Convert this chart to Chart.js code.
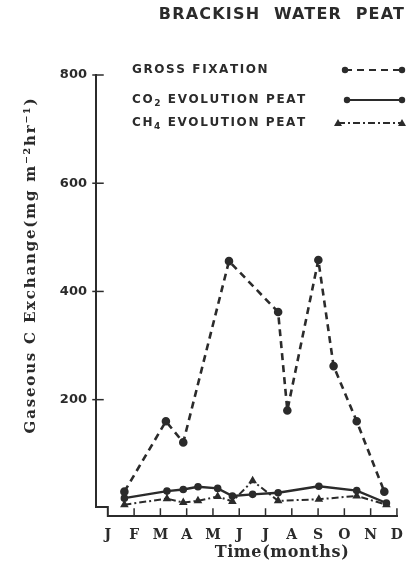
<!DOCTYPE html>
<html><head><meta charset="utf-8">
<script src="https://cdn.jsdelivr.net/npm/chart.js@4/dist/chart.umd.min.js"></script>
<style>html,body{margin:0;padding:0;background:#fff;}#wrap{width:414px;height:567px;position:relative;}</style>
</head><body><div id="wrap"><canvas id="c" width="414" height="567"></canvas></div>
<script>
// ---- data (x = month position, 0 = January, 11 = December) ----
const monthLabels = ["J","F","M","A","M","J","J","A","S","O","N","D"];
const yTicks = [200, 400, 600, 800];
const grossX = [0.63, 2.21, 2.87, 4.61, 6.48, 6.83, 8.01, 8.59, 9.47, 10.52];
const grossY = [30, 160, 121, 456, 362, 180, 458, 262, 160, 30];
const co2X = [0.63, 2.25, 2.87, 3.43, 4.18, 4.74, 5.51, 6.48, 8.03, 9.47, 10.6];
const co2Y = [18, 31, 34, 39, 36, 22, 25, 28, 40, 32, 9];
const ch4X = [0.63, 2.25, 2.87, 3.43, 4.18, 4.74, 5.51, 6.48, 8.03, 9.47, 10.6];
const ch4Y = [6, 17, 10, 13, 21, 12, 50, 13, 16, 22, 6];
const seriesNames = ["GROSS FIXATION", "CO2 EVOLUTION PEAT", "CH4 EVOLUTION PEAT"];
const chartTitle = "BRACKISH WATER PEAT";
const xTitle = "Time(months)";
const yTitle = "Gaseous C Exchange(mg m\u207B\u00B2hr\u207B\u00B9)";

const INK = "#2b2b2b";
const pts = (xs, ys) => xs.map((x, i) => ({x, y: ys[i]}));

const decor = {
  id: "decor",
  beforeDatasetsDraw(chart) {
    const ctx = chart.ctx, xs = chart.scales.x, ys = chart.scales.y;
    const L = chart.chartArea.left, B = chart.chartArea.bottom;
    const x0 = xs.getPixelForValue(0);
    ctx.save();
    ctx.strokeStyle = INK; ctx.lineWidth = 2; ctx.lineCap = "square";
    ctx.beginPath();
    ctx.moveTo(L, ys.getPixelForValue(800));
    ctx.lineTo(L, B - 9);
    ctx.lineTo(x0, B - 9);
    ctx.lineTo(x0, B);
    ctx.lineTo(xs.getPixelForValue(11), B);
    ctx.stroke();
    ctx.lineWidth = 1.5;
    yTicks.forEach(v => { const p = ys.getPixelForValue(v); ctx.beginPath(); ctx.moveTo(L - 3, p); ctx.lineTo(L + 7, p); ctx.stroke(); });
    for (let i = 1; i <= 11; i++) { const p = xs.getPixelForValue(i); ctx.beginPath(); ctx.moveTo(p, B); ctx.lineTo(p, B - 7); ctx.stroke(); }
    ctx.restore();
  },
  afterDraw(chart) {
    const ctx = chart.ctx;
    ctx.save();
    ctx.fillStyle = INK;
    ctx.textBaseline = "middle";
    // title
    ctx.font = "bold 16px 'DejaVu Sans'";
    ctx.letterSpacing = "1.2px";
    ctx.textAlign = "center";
    ctx.fillText(chartTitle.replace(/ /g, "  "), 282, 15);
    // legend
    ctx.textAlign = "left";
    const F = "bold 12px 'DejaVu Sans'", FS = "bold 9px 'DejaVu Sans'";
    ctx.font = F;
    ctx.letterSpacing = "1.6px";
    const ly = [70, 100, 123];
    function sub(txt, x, y, subIdx) {
      let cx = x;
      for (let i = 0; i < txt.length; i++) {
        const ch = txt[i];
        if (i === subIdx) { ctx.font = FS; ctx.fillText(ch, cx, y + 4); cx += ctx.measureText(ch).width; ctx.font = F; }
        else { ctx.fillText(ch, cx, y); cx += ctx.measureText(ch).width; }
      }
    }
    sub(seriesNames[0], 132, ly[0], -1);
    sub(seriesNames[1], 132, ly[1], 2);
    sub(seriesNames[2], 132, ly[2], 2);
    ctx.letterSpacing = "0px";
    const ds = chart.data.datasets;
    const samples = [[345, 402], [347, 402], [338, 402]];
    ds.forEach((d, i) => {
      const [a, b] = samples[i], y = ly[i];
      ctx.strokeStyle = INK; ctx.lineWidth = 2.2;
      ctx.setLineDash(d.borderDash || []);
      ctx.beginPath(); ctx.moveTo(a, y); ctx.lineTo(b, y); ctx.stroke();
      ctx.setLineDash([]);
      [a, b].forEach(px => {
        ctx.beginPath();
        if (d.pointStyle === "triangle") { ctx.moveTo(px, y - 4); ctx.lineTo(px + 4, y + 3); ctx.lineTo(px - 4, y + 3); ctx.closePath(); }
        else ctx.arc(px, y, 3.2, 0, Math.PI * 2);
        ctx.fill();
      });
    });
    // axis titles
    ctx.font = "bold 16px 'DejaVu Serif'";
    ctx.letterSpacing = "0.6px";
    ctx.textAlign = "center";
    ctx.fillText(xTitle, 282, 553);
    ctx.translate(31, 265);
    ctx.rotate(-Math.PI / 2);
    ctx.font = "bold 15px 'DejaVu Serif'";
    ctx.letterSpacing = "1.8px";
    ctx.fillText(yTitle, 0, 0);
    ctx.restore();
  }
};

new Chart(document.getElementById("c"), {
  type: "line",
  data: {
    datasets: [
      { label: seriesNames[0], data: pts(grossX, grossY), borderColor: INK, backgroundColor: INK, borderWidth: 2.6, borderDash: [7, 5], pointRadius: 3, pointStyle: "circle", tension: 0 },
      { label: seriesNames[1], data: pts(co2X, co2Y), borderColor: INK, backgroundColor: INK, borderWidth: 2.4, pointRadius: 2.6, pointStyle: "circle", tension: 0 },
      { label: seriesNames[2], data: pts(ch4X, ch4Y), borderColor: INK, backgroundColor: INK, borderWidth: 2, borderDash: [7, 3, 2, 3], pointRadius: 3, pointStyle: "triangle", tension: 0 }
    ]
  },
  options: {
    responsive: false, animation: false, devicePixelRatio: 1,
    layout: { padding: { top: 75, right: 9, left: 0, bottom: 0 } },
    plugins: { legend: { display: false }, title: { display: false }, tooltip: { enabled: false } },
    scales: {
      x: {
        type: "linear", min: -0.45, max: 11,
        grid: { display: false, drawTicks: false }, border: { display: false },
        afterBuildTicks: s => { s.ticks = monthLabels.map((_, i) => ({ value: i })); },
        afterFit: s => { s.height = 51; },
        ticks: { callback: (v) => monthLabels[v] ?? "", padding: 11, autoSkip: false, maxRotation: 0, color: INK, font: { family: "DejaVu Serif", weight: "bold", size: 14 } }
      },
      y: {
        type: "linear", min: -15, max: 800,
        grid: { display: false, drawTicks: false }, border: { display: false },
        afterBuildTicks: s => { s.ticks = yTicks.map(v => ({ value: v })); },
        afterFit: s => { s.width = 96; },
        ticks: { padding: 9, color: INK, font: { family: "DejaVu Sans", weight: "bold", size: 13 } }
      }
    }
  },
  plugins: [decor]
});
</script></body></html>
